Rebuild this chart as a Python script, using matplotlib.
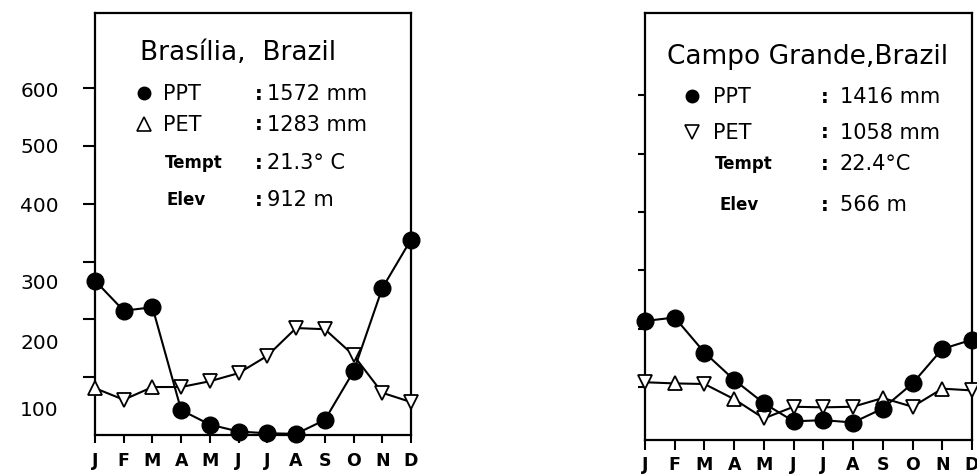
import matplotlib
matplotlib.use("Agg")
import matplotlib.pyplot as plt
import numpy as np

months = ["J", "F", "M", "A", "M", "J", "J", "A", "S", "O", "N", "D"]

# Brasilia, monthly mm
bra_ppt = [267, 215, 221, 43, 18, 6, 3, 2, 26, 110, 254, 338]
bra_pet = [81, 61, 83, 83, 93, 107, 137, 185, 183, 138, 73, 57]
# Campo Grande, monthly mm
cg_ppt = [213, 219, 159, 112, 72, 41, 43, 39, 63, 106, 165, 181]
cg_pet = [108, 106, 105, 79, 46, 66, 65, 66, 81, 66, 97, 94]

yticks = [100, 200, 300, 400, 500, 600]
# the tick numbers on the left panel sit a little off their ticks
ylabel_pos = [48, 163, 268, 401, 502, 599]
ylabel_txt = ["100", "200", "300", "400", "500", "600"]

bra_info = ["Brasília,  Brazil", "1572 mm", "1283 mm", "21.3° C", "912 m"]
cg_info = ["Campo Grande,Brazil", "1416 mm", "1058 mm", "22.4°C", "566 m"]

# triangle direction of each PET point as drawn
bra_pet_mk = ["^", "v", "^", "v", "v", "v", "v", "v", "v", "v", "v", "v"]
cg_pet_mk = ["v", "^", "v", "^", "v", "v", "v", "v", "^", "v", "^", "v"]

W, H = 978, 477
fig = plt.figure(figsize=(W / 100, H / 100), dpi=100)


def px_axes(x0, x1, ytop, ybot):
    return fig.add_axes([x0 / W, (H - ybot) / H, (x1 - x0) / W, (ybot - ytop) / H])


def draw(ax, ppt, pet, pet_mk, ylim, tick_len, tick_pad):
    x = np.arange(12)
    ax.plot(x, pet, color="black", lw=1.5, zorder=2, clip_on=False)
    for xi, yi, mk in zip(x, pet, pet_mk):
        ax.plot(xi, yi, marker=mk, ms=10, mfc="white", mec="black", mew=1.3,
                zorder=3, clip_on=False)
    ax.plot(x, ppt, color="black", lw=1.5, marker="o", ms=12, mfc="black",
            mec="black", zorder=4, clip_on=False)
    ax.set_xlim(0, 11)
    ax.set_ylim(*ylim)
    ax.set_xticks(x)
    ax.set_xticklabels(months, fontsize=12.5, fontweight="bold")
    ax.tick_params(axis="x", direction="out", length=tick_len, width=1.5,
                   pad=tick_pad)
    for s in ax.spines.values():
        s.set_linewidth(1.6)


def info(ax, fx, fy, lines, pet_marker):
    # fx, fy convert picture pixels into axes fractions
    t = ax.transAxes
    title, ppt, pet, temp, elev = lines
    ax.text(fx(title[0]), fy(title[1]), title[2], transform=t, fontsize=19,
            va="center", ha="left")
    ax.plot(fx(ppt[0]), fy(ppt[1]), "o", ms=9, color="black", transform=t,
            clip_on=False)
    ax.plot(fx(pet[0]), fy(pet[1]), pet_marker, ms=10, mfc="white", mec="black",
            mew=1.2, transform=t, clip_on=False)
    for row in (ppt, pet):
        ax.text(fx(row[2]), fy(row[1]), row[3], transform=t, fontsize=15,
                va="center")
        ax.text(fx(row[4]), fy(row[1]), ":", transform=t, fontsize=14,
                va="center", fontweight="bold")
        ax.text(fx(row[5]), fy(row[1]), row[6], transform=t, fontsize=15,
                va="center")
    for row in (temp, elev):
        ax.text(fx(row[0]), fy(row[1]), row[2], transform=t, fontsize=12,
                va="center", fontweight="bold")
        ax.text(fx(row[3]), fy(row[1]), ":", transform=t, fontsize=14,
                va="center", fontweight="bold")
        ax.text(fx(row[4]), fy(row[1]), row[5], transform=t, fontsize=15,
                va="center")


# left panel
ax1 = px_axes(95, 411, 14, 436)
draw(ax1, bra_ppt, bra_pet, bra_pet_mk, (0, 730), 5.8, 5.5)
ax1.set_yticks(ylabel_pos)
ax1.set_yticklabels(ylabel_txt, fontsize=14.5)
ax1.tick_params(axis="y", which="major", length=0, pad=26)
ax1.set_yticks(yticks, minor=True)
ax1.tick_params(axis="y", which="minor", direction="out", length=8.6, width=1.5)

fx1 = lambda p: (p - 95) / 316
fy1 = lambda p: (436 - p) / 422
info(ax1, fx1, fy1, [
    (140, 53, bra_info[0]),
    (144, 94, 163, "PPT", 255, 267, bra_info[1]),
    (144, 125, 163, "PET", 255, 267, bra_info[2]),
    (165, 163, "Tempt", 255, 267, bra_info[3]),
    (167, 200, "Elev", 255, 267, bra_info[4]),
], "^")

# right panel
ax2 = px_axes(645, 972, 14, 441)
draw(ax2, cg_ppt, cg_pet, cg_pet_mk, (9, 741), 7, 4)
ax2.set_yticks([])
ax2.set_yticks(yticks, minor=True)
ax2.tick_params(axis="y", which="minor", direction="out", length=5, width=1.5)

fx2 = lambda p: (p - 645) / 327
fy2 = lambda p: (441 - p) / 427
info(ax2, fx2, fy2, [
    (667, 57, cg_info[0]),
    (692, 97, 713, "PPT", 821, 840, cg_info[1]),
    (692, 133, 713, "PET", 821, 840, cg_info[2]),
    (715, 164, "Tempt", 821, 840, cg_info[3]),
    (720, 205, "Elev", 821, 840, cg_info[4]),
], "v")

fig.savefig("out.png", dpi=100)
